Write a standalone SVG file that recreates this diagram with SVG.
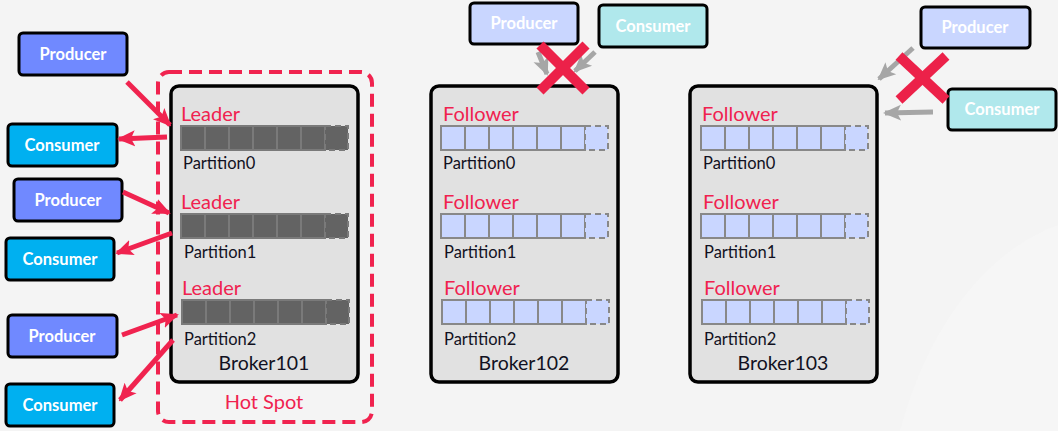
<svg xmlns="http://www.w3.org/2000/svg" width="1058" height="431" viewBox="0 0 1058 431">
<defs>
<style>
.btn{font-family:Lato,"Liberation Sans",sans-serif;font-weight:bold;font-size:16.5px;fill:#fff;text-anchor:middle;}
.role{font-family:Lato,"Liberation Sans",sans-serif;font-size:20px;fill:#f0224f;}
.pt{font-family:Lato,"Liberation Sans",sans-serif;font-size:16.5px;fill:#111122;}
.bk{font-family:Lato,"Liberation Sans",sans-serif;font-size:19.5px;fill:#111122;text-anchor:middle;}
.broker{fill:#e1e1e1;stroke:#000;stroke-width:3.5;}
.prod{fill:#7089ff;stroke:#000;stroke-width:3;}
.cons{fill:#00b0f0;stroke:#000;stroke-width:3;}
.prodL{fill:#c9d6ff;stroke:#000;stroke-width:3;}
.consL{fill:#b0e8ec;stroke:#000;stroke-width:3;}
.cellD{fill:#636363;stroke:#7a7a7a;stroke-width:2;}
.cellL{fill:#c9d6ff;stroke:#888;stroke-width:2;}
.red{stroke:#f0234f;stroke-width:5;fill:none;marker-end:url(#ah);}
.gray{stroke:#a6a6a6;stroke-width:5;fill:none;marker-end:url(#ag);}
.x{stroke:#ec2149;stroke-width:10;}
</style>
<marker id="ah" markerUnits="userSpaceOnUse" markerWidth="18" markerHeight="18" viewBox="0 0 18 18" refX="16" refY="9" orient="auto">
<path d="M0,1 L18,9 L0,17 L4,9 Z" fill="#f0234f"/>
</marker>
<marker id="ag" markerUnits="userSpaceOnUse" markerWidth="18" markerHeight="18" viewBox="0 0 18 18" refX="16" refY="9" orient="auto">
<path d="M0,1 L18,9 L0,17 L4,9 Z" fill="#a6a6a6"/>
</marker>
<g id="rowD">
<rect class="cellD" x="0" y="0" width="24" height="24"/>
<rect class="cellD" x="24" y="0" width="24" height="24"/>
<rect class="cellD" x="48" y="0" width="24" height="24"/>
<rect class="cellD" x="72" y="0" width="24" height="24"/>
<rect class="cellD" x="96" y="0" width="24" height="24"/>
<rect class="cellD" x="120" y="0" width="24" height="24"/>
<rect class="cellD" x="144" y="0" width="23" height="24" stroke-dasharray="6 4"/>
</g>
<g id="rowL">
<rect class="cellL" x="0" y="0" width="24" height="24"/>
<rect class="cellL" x="24" y="0" width="24" height="24"/>
<rect class="cellL" x="48" y="0" width="24" height="24"/>
<rect class="cellL" x="72" y="0" width="24" height="24"/>
<rect class="cellL" x="96" y="0" width="24" height="24"/>
<rect class="cellL" x="120" y="0" width="24" height="24"/>
<rect class="cellL" x="144" y="0" width="23" height="24" stroke-dasharray="6 4"/>
</g>
</defs>
<rect width="1058" height="431" fill="#f4f4f4"/>
<path d="M900,431 C930,320 990,250 1058,225 L1058,431 Z" fill="#f6f6f6"/>

<g id="hotspot">
<rect x="158" y="72" width="214" height="350" rx="11" fill="none" stroke="#f0234f" stroke-width="4" stroke-dasharray="13 7"/>
<text class="role" x="264" y="409" text-anchor="middle">Hot Spot</text>
</g>

<g id="broker101">
<rect class="broker" x="171" y="86" width="187" height="296" rx="8"/>
<text class="role" x="181" y="121">Leader</text>
<use href="#rowD" x="181" y="126"/>
<text class="pt" x="183" y="169">Partition0</text>
<text class="role" x="181" y="209">Leader</text>
<use href="#rowD" x="181" y="214"/>
<text class="pt" x="184" y="258">Partition1</text>
<text class="role" x="182" y="295">Leader</text>
<use href="#rowD" x="182" y="300"/>
<text class="pt" x="184" y="345">Partition2</text>
<text class="bk" x="264" y="370">Broker101</text>
</g>

<g id="broker102">
<rect class="broker" x="431" y="86" width="187" height="296" rx="8"/>
<text class="role" x="443" y="121">Follower</text>
<use href="#rowL" x="441" y="126"/>
<text class="pt" x="443" y="169">Partition0</text>
<text class="role" x="443" y="209">Follower</text>
<use href="#rowL" x="441" y="214"/>
<text class="pt" x="444" y="258">Partition1</text>
<text class="role" x="444" y="295">Follower</text>
<use href="#rowL" x="442" y="300"/>
<text class="pt" x="444" y="345">Partition2</text>
<text class="bk" x="524" y="370">Broker102</text>
</g>

<g id="broker103">
<rect class="broker" x="690" y="86" width="187" height="296" rx="8"/>
<text class="role" x="702" y="121">Follower</text>
<use href="#rowL" x="701" y="126"/>
<text class="pt" x="703" y="169">Partition0</text>
<text class="role" x="703" y="209">Follower</text>
<use href="#rowL" x="701" y="214"/>
<text class="pt" x="704" y="258">Partition1</text>
<text class="role" x="704" y="295">Follower</text>
<use href="#rowL" x="702" y="300"/>
<text class="pt" x="704" y="345">Partition2</text>
<text class="bk" x="783" y="370">Broker103</text>
</g>

<g id="producer1"><rect class="prod" x="19" y="33" width="108" height="42" rx="4"/><text class="btn" x="73" y="60">Producer</text></g>
<g id="consumer1"><rect class="cons" x="8" y="124" width="109" height="42" rx="4"/><text class="btn" x="62" y="151">Consumer</text></g>
<g id="producer2"><rect class="prod" x="14" y="179" width="108" height="42" rx="4"/><text class="btn" x="68" y="206">Producer</text></g>
<g id="consumer2"><rect class="cons" x="6" y="238" width="108" height="42" rx="4"/><text class="btn" x="60" y="265">Consumer</text></g>
<g id="producer3"><rect class="prod" x="8" y="315" width="109" height="42" rx="4"/><text class="btn" x="62" y="342">Producer</text></g>
<g id="consumer3"><rect class="cons" x="6" y="384" width="108" height="42" rx="4"/><text class="btn" x="60" y="411">Consumer</text></g>

<g id="producer4"><rect class="prodL" x="470" y="3" width="108" height="41" rx="4"/><text class="btn" x="524" y="29">Producer</text></g>
<g id="consumer4"><rect class="consL" x="599" y="5" width="108" height="42" rx="4"/><text class="btn" x="653" y="32">Consumer</text></g>
<g id="producer5"><rect class="prodL" x="921" y="7" width="109" height="41" rx="4"/><text class="btn" x="975" y="33">Producer</text></g>
<g id="consumer5"><rect class="consL" x="948" y="89" width="108" height="41" rx="4"/><text class="btn" x="1002" y="115">Consumer</text></g>

<g id="connectors">
<line class="red" x1="127" y1="82" x2="170" y2="125"/>
<line class="red" x1="167" y1="137" x2="119" y2="139"/>
<line class="red" x1="123" y1="192" x2="169" y2="213"/>
<line class="red" x1="172" y1="233" x2="117" y2="253"/>
<line class="red" x1="122" y1="335" x2="177" y2="315"/>
<line class="red" x1="173" y1="340" x2="120" y2="400"/>
<line class="gray" x1="538" y1="52" x2="547" y2="74"/>
<line class="gray" x1="595" y1="52" x2="575" y2="71"/>
<line class="gray" x1="913" y1="48" x2="879" y2="79"/>
<line class="gray" x1="933" y1="112" x2="885" y2="113"/>
</g>

<g id="cross1">
<line class="x" x1="540" y1="45" x2="586" y2="91"/>
<line class="x" x1="586" y1="45" x2="540" y2="91"/>
</g>
<g id="cross2">
<line class="x" x1="899" y1="56" x2="946" y2="100"/>
<line class="x" x1="946" y1="56" x2="899" y2="100"/>
</g>
</svg>
